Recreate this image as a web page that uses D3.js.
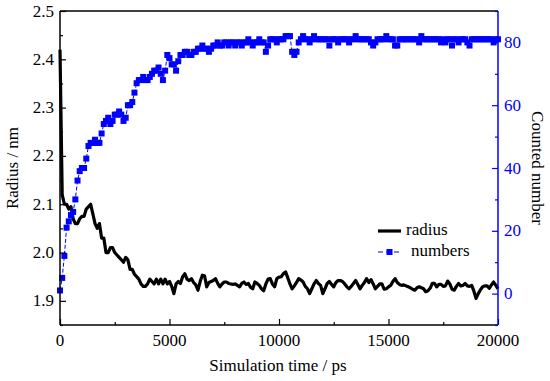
<!DOCTYPE html>
<html><head><meta charset="utf-8">
<script src="https://cdn.jsdelivr.net/npm/d3@7/dist/d3.min.js"></script>
<style>body{margin:0;background:#fff}svg{display:block}text{font-family:"Liberation Serif","Times New Roman",serif}</style>
</head><body><svg id="c" width="550" height="381"></svg>
<script>
// time step of both series (ps)
const timeStepPs = 100;
const xTicks = [0, 5000, 10000, 15000, 20000];
const leftTicks = [1.9, 2.0, 2.1, 2.2, 2.3, 2.4, 2.5];
const rightTicks = [0, 20, 40, 60, 80];
const legendLabels = ["radius", "numbers"];

const radius = [
 2.42,2.12,2.10,2.10,2.09,2.095,2.07,2.06,2.06,2.07,2.075,2.075,2.09,2.095,2.10,2.08,2.06,2.05,2.06,2.03,2.03,
 2.00,2.00,2.01,2.01,2.00,1.995,1.99,1.985,1.98,1.99,1.985,1.965,1.965,1.955,1.95,1.945,1.935,1.93,1.93,1.935,
 1.945,1.94,1.935,1.945,1.935,1.945,1.935,1.945,1.935,1.94,1.93,1.915,1.935,1.94,1.936,1.95,1.956,1.945,1.942,1.946,
 1.938,1.933,1.922,1.94,1.953,1.952,1.929,1.938,1.94,1.942,1.946,1.936,1.929,1.935,1.939,1.939,1.936,1.935,1.934,1.935,
 1.932,1.929,1.936,1.939,1.934,1.936,1.928,1.925,1.939,1.936,1.932,1.925,1.921,1.935,1.945,1.946,1.935,1.929,1.946,1.949,
 1.95,1.956,1.96,1.948,1.935,1.925,1.931,1.938,1.946,1.943,1.939,1.93,1.925,1.915,1.925,1.935,1.942,1.936,1.932,1.915,
 1.925,1.936,1.94,1.934,1.929,1.938,1.942,1.942,1.94,1.935,1.929,1.925,1.93,1.936,1.942,1.934,1.925,1.932,1.938,1.946,
 1.938,1.944,1.935,1.925,1.93,1.935,1.935,1.924,1.925,1.929,1.932,1.94,1.946,1.938,1.934,1.932,1.933,1.931,1.929,1.927,
 1.924,1.922,1.927,1.929,1.927,1.925,1.919,1.921,1.926,1.936,1.936,1.929,1.934,1.934,1.93,1.931,1.941,1.935,1.924,1.922,
 1.93,1.936,1.931,1.932,1.936,1.931,1.93,1.932,1.92,1.905,1.915,1.923,1.929,1.931,1.931,1.926,1.933,1.939,1.932,1.925
];

const numbers = [
 1,5,12,21,23,25,26,30,36,39,40,40,43,47,48,48,49,48,48,51,54,
 55,56,54,55,57,57,58,57,55,56,60,60,61,64,67,68,68,69,68,68,
 69,70,71,71,72,70,68,71,76,75,73,73,71,74,76,76,77,77,76,76,
 77,77,78,78,79,78,78,77,78,79,79,80,79,79,80,80,79,80,80,79,
 80,80,79,80,80,81,80,79,80,80,81,80,80,77,79,81,81,81,80,81,
 81,81,82,82,82,77,76,77,80,81,82,81,81,80,81,82,81,81,81,81,
 81,81,79,81,81,81,80,81,81,81,81,80,81,81,82,81,81,81,81,81,
 81,80,79,80,81,81,81,81,82,81,81,81,79,79,81,81,81,81,81,81,
 81,81,81,80,82,81,81,81,81,81,81,81,81,80,81,80,81,81,79,81,
 81,80,81,81,81,80,79,81,81,81,81,81,81,81,81,81,81,80,81,81
];

const svg = d3.select("#c");
const L = 60, R = 498, T = 11, B = 325;
const x = d3.scaleLinear().domain([0, 20000]).range([L, R]);
const yL = d3.scaleLinear().domain([1.85, 2.5]).range([B, T]);
const yR = d3.scaleLinear().domain([-10, 90]).range([B, T]);
const FS = "17px";

// radius line
svg.append("path")
  .datum(radius)
  .attr("fill", "none").attr("stroke", "#000").attr("stroke-width", 3.2)
  .attr("stroke-linejoin", "round")
  .attr("d", d3.line().x((d, i) => x(i * timeStepPs)).y(d => yL(d)));

// numbers: dashed line + squares
svg.append("path")
  .datum(numbers)
  .attr("fill", "none").attr("stroke", "#0000ff").attr("stroke-width", 1)
  .attr("stroke-dasharray", "4,2")
  .attr("d", d3.line().x((d, i) => x(i * timeStepPs)).y(d => yR(d)));
const S = 6;
svg.append("g").selectAll("rect").data(numbers).join("rect")
  .attr("x", (d, i) => x(i * timeStepPs) - S / 2)
  .attr("y", d => yR(d) - S / 2)
  .attr("width", S).attr("height", S).attr("fill", "#0000ff");

// frame top
svg.append("line").attr("x1", L).attr("x2", R).attr("y1", T).attr("y2", T)
  .attr("stroke", "#000").attr("stroke-width", 1.5);

// bottom axis
const gx = svg.append("g").attr("transform", `translate(0,${B})`);
gx.call(d3.axisBottom(x).tickValues(d3.range(0, 20001, 2500)).tickSize(0).tickFormat(""));
gx.select(".domain").remove();
gx.append("line").attr("x1", L).attr("x2", R).attr("stroke", "#000").attr("stroke-width", 1.5);
gx.selectAll(".tick line").attr("y2", d => d % 5000 === 0 ? -6 : -3).attr("stroke", "#000").attr("stroke-width", 1.2);
gx.selectAll(".tk").data(xTicks).join("text").attr("class", "tk")
  .attr("x", d => x(d)).attr("y", 21).attr("text-anchor", "middle")
  .style("font-size", FS).attr("fill", "#000").text(d => d);

// left axis
const gl = svg.append("g").attr("transform", `translate(${L},0)`);
gl.call(d3.axisLeft(yL).tickValues(d3.range(1.85, 2.501, 0.05).map(v => +v.toFixed(2))).tickSize(0).tickFormat(""));
gl.select(".domain").remove();
gl.append("line").attr("y1", T).attr("y2", B).attr("stroke", "#000").attr("stroke-width", 1.5);
gl.selectAll(".tick line").attr("x2", d => Math.abs(d * 10 - Math.round(d * 10)) < 1e-6 ? 6 : 3).attr("stroke", "#000").attr("stroke-width", 1.2);
gl.selectAll(".tk").data(leftTicks).join("text").attr("class", "tk")
  .attr("x", -6).attr("y", d => yL(d) + 5.5).attr("text-anchor", "end")
  .style("font-size", FS).attr("fill", "#000").text(d => d.toFixed(1));

// right axis
const gr = svg.append("g").attr("transform", `translate(${R},0)`);
gr.call(d3.axisRight(yR).tickValues(d3.range(-10, 91, 10)).tickSize(0).tickFormat(""));
gr.select(".domain").remove();
gr.append("line").attr("y1", T).attr("y2", B).attr("stroke", "#0000ff").attr("stroke-width", 1.5);
gr.selectAll(".tick line").attr("x2", d => d % 20 === 0 ? -6 : -3).attr("stroke", "#0000ff").attr("stroke-width", 1.2);
gr.selectAll(".tk").data(rightTicks).join("text").attr("class", "tk")
  .attr("x", 6).attr("y", d => yR(d) + 5.5).attr("text-anchor", "start")
  .style("font-size", FS).attr("fill", "#0000ff").text(d => d);

// axis titles
svg.append("text").attr("x", (L + R) / 2 - 1).attr("y", 371).attr("text-anchor", "middle")
  .style("font-size", FS).text("Simulation time / ps");
svg.append("text").attr("transform", `translate(18,${(T + B) / 2}) rotate(-90)`).attr("text-anchor", "middle")
  .style("font-size", FS).text("Radius / nm");
svg.append("text").attr("transform", `translate(532,${(T + B) / 2}) rotate(90)`).attr("text-anchor", "middle")
  .style("font-size", FS).text("Counted number");

// legend
const lg = svg.append("g");
lg.append("line").attr("x1", 378).attr("x2", 401).attr("y1", 231).attr("y2", 231)
  .attr("stroke", "#000").attr("stroke-width", 3.2);
lg.append("text").attr("x", 406).attr("y", 235).style("font-size", FS).text(legendLabels[0]);
lg.append("line").attr("x1", 378).attr("x2", 401).attr("y1", 252).attr("y2", 252)
  .attr("stroke", "#0000ff").attr("stroke-width", 1).attr("stroke-dasharray", "5,3");
lg.append("rect").attr("x", 386.5).attr("y", 249).attr("width", S).attr("height", S).attr("fill", "#0000ff");
lg.append("text").attr("x", 411).attr("y", 256).style("font-size", FS).text(legendLabels[1]);
</script></body></html>
